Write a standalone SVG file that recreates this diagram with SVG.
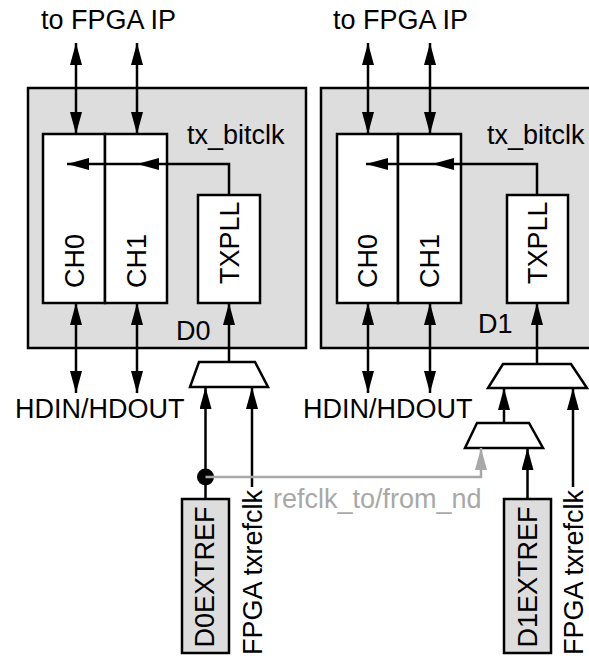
<svg xmlns="http://www.w3.org/2000/svg" width="589" height="658" viewBox="0 0 589 658">
<defs>
<style>
.die{fill:#dddddd;stroke:#000;stroke-width:2.5}
.blk{fill:#ffffff;stroke:#000;stroke-width:2.5}
.ext{fill:#dddddd;stroke:#000;stroke-width:2.5}
.mux{fill:#ffffff;stroke:#000;stroke-width:2.5;stroke-linejoin:miter}
.w{fill:none;stroke:#000;stroke-width:2.5}
.g{fill:none;stroke:#a8a8a8;stroke-width:2.5}
text{font-family:"Liberation Sans",Arial,Helvetica,sans-serif;font-size:27px;fill:#000}
.gt{fill:#a8a8a8}
</style>
<marker id="ah" viewBox="0 0 22 12" refX="22" refY="6" markerWidth="22" markerHeight="12" markerUnits="userSpaceOnUse" orient="auto-start-reverse"><path d="M0,0 L22,6 L0,12 z" fill="#000"/></marker>
<marker id="ahg" viewBox="0 0 22 12" refX="22" refY="6" markerWidth="22" markerHeight="12" markerUnits="userSpaceOnUse" orient="auto-start-reverse"><path d="M0,0 L22,6 L0,12 z" fill="#a8a8a8"/></marker>
</defs>
<rect width="589" height="658" fill="#ffffff"/>

<g id="D0">
<rect class="die" x="28" y="88" width="278" height="260"/>
<text x="176" y="340">D0</text>
<text x="187" y="144">tx_bitclk</text>
</g>
<g id="D1">
<rect class="die" x="321" y="88" width="290" height="260"/>
<text x="478" y="333">D1</text>
<text x="487" y="144">tx_bitclk</text>
</g>

<g id="D0_CH0"><rect class="blk" x="43" y="134" width="62" height="169"/><text transform="translate(83.6,288) rotate(-90)">CH0</text></g>
<g id="D0_CH1"><rect class="blk" x="105" y="134" width="62" height="169"/><text transform="translate(145.6,288) rotate(-90)">CH1</text></g>
<g id="D0_TXPLL"><rect class="blk" x="198" y="195" width="62" height="108"/><text transform="translate(238.6,284) rotate(-90)">TXPLL</text></g>
<g id="D1_CH0"><rect class="blk" x="337" y="134" width="61" height="169"/><text transform="translate(377,288) rotate(-90)">CH0</text></g>
<g id="D1_CH1"><rect class="blk" x="398" y="134" width="63" height="169"/><text transform="translate(439,288) rotate(-90)">CH1</text></g>
<g id="D1_TXPLL"><rect class="blk" x="507" y="195" width="61" height="108"/><text transform="translate(547,284) rotate(-90)">TXPLL</text></g>

<g id="D0_MUX"><polygon class="mux" points="199,362 255,362 268,387 190,387"/></g>
<g id="D1_MUX"><polygon class="mux" points="503,364 571,364 587,388 488,388"/></g>
<g id="D1_REFMUX"><polygon class="mux" points="477,423 529,423 543,448 465,448"/></g>

<g id="D0EXTREF"><rect class="ext" x="182" y="499" width="47" height="154"/><text transform="translate(214,577) rotate(-90)" text-anchor="middle">D0EXTREF</text></g>
<g id="D1EXTREF"><rect class="ext" x="504" y="499" width="47" height="154"/><text transform="translate(537,577) rotate(-90)" text-anchor="middle">D1EXTREF</text></g>

<g id="labels">
<text x="41" y="29">to FPGA IP</text>
<text x="333" y="29">to FPGA IP</text>
<text x="15" y="418">HDIN/HDOUT</text>
<text x="303" y="418">HDIN/HDOUT</text>
<text transform="translate(262,655) rotate(-90)">FPGA txrefclk</text>
<text transform="translate(583,655) rotate(-90)">FPGA txrefclk</text>
<text class="gt" x="273" y="508">refclk_to/from_nd</text>
</g>

<g id="connectors">
<!-- D0 top -->
<line class="w" x1="76" y1="43" x2="76" y2="134" marker-start="url(#ah)" marker-end="url(#ah)"/>
<line class="w" x1="137" y1="43" x2="137" y2="134" marker-start="url(#ah)" marker-end="url(#ah)"/>
<!-- D0 bottom -->
<line class="w" x1="76" y1="303" x2="76" y2="393" marker-start="url(#ah)" marker-end="url(#ah)"/>
<line class="w" x1="137" y1="303" x2="137" y2="393" marker-start="url(#ah)" marker-end="url(#ah)"/>
<!-- D0 feedback -->
<path class="w" d="M229,195 V164 H137" marker-end="url(#ah)"/>
<path class="w" d="M137,164 H67" marker-end="url(#ah)"/>
<!-- D0 mux -->
<line class="w" x1="229" y1="362" x2="229" y2="303" marker-end="url(#ah)"/>
<line class="w" x1="205.5" y1="499" x2="205.5" y2="387" marker-end="url(#ah)"/>
<line class="w" x1="252" y1="487" x2="252" y2="387" marker-end="url(#ah)"/>
<!-- D1 top -->
<line class="w" x1="368" y1="43" x2="368" y2="134" marker-start="url(#ah)" marker-end="url(#ah)"/>
<line class="w" x1="430" y1="43" x2="430" y2="134" marker-start="url(#ah)" marker-end="url(#ah)"/>
<!-- D1 bottom -->
<line class="w" x1="368" y1="303" x2="368" y2="393" marker-start="url(#ah)" marker-end="url(#ah)"/>
<line class="w" x1="430" y1="303" x2="430" y2="393" marker-start="url(#ah)" marker-end="url(#ah)"/>
<!-- D1 feedback -->
<path class="w" d="M537,195 V164 H432" marker-end="url(#ah)"/>
<path class="w" d="M432,164 H366" marker-end="url(#ah)"/>
<!-- D1 muxes -->
<line class="w" x1="537" y1="364" x2="537" y2="303" marker-end="url(#ah)"/>
<line class="w" x1="504" y1="423" x2="504" y2="388" marker-end="url(#ah)"/>
<line class="w" x1="573" y1="487" x2="573" y2="388" marker-end="url(#ah)"/>
<line class="w" x1="527.5" y1="499" x2="527.5" y2="448" marker-end="url(#ah)"/>
<!-- junction + gray refclk -->
<circle cx="205.5" cy="477" r="8.5" fill="#000"/>
<path class="g" d="M205.5,477 H481 V448" marker-end="url(#ahg)"/>
</g>
</svg>
